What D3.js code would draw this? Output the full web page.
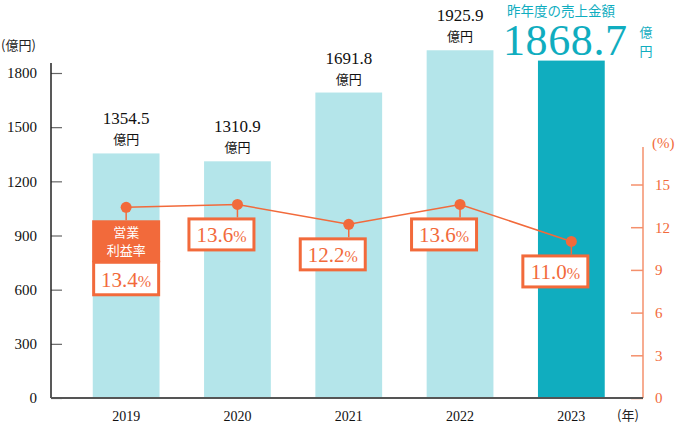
<!DOCTYPE html>
<html><head><meta charset="utf-8">
<script src="https://cdn.jsdelivr.net/npm/d3@7"></script>
<style>body{margin:0;background:#fff}svg{display:block}</style>
</head><body>
<svg id="c" width="679" height="426"></svg>
<script>
const years = ["2019","2020","2021","2022","2023"];
const sales = [1354.5, 1310.9, 1691.8, 1925.9, 1868.7];
const margins = [13.4, 13.6, 12.2, 13.6, 11.0];
const leftTicks = [0, 300, 600, 900, 1200, 1500, 1800];
const rightTicks = [0, 3, 6, 9, 12, 15];

const serif = "'Liberation Serif','DejaVu Serif',serif";
const cjk = "'Noto Sans CJK JP','Noto Sans',sans-serif";
const orange = "#f26a3b", teal = "#10adbf", light = "#b4e5ea";

const svg = d3.select("#c");
const x = d3.scaleBand().domain(years).range([70.5, 627]).paddingInner(0.4).paddingOuter(0.2);
const y = d3.scaleLinear().domain([0, 1800]).range([398, 73]);
const y2 = d3.scaleLinear().domain([0, 15]).range([398, 184.5]);
const cx = d => x(d) + x.bandwidth() / 2;

// bars
svg.selectAll("rect.bar").data(years).join("rect")
  .attr("x", d => x(d)).attr("width", x.bandwidth())
  .attr("y", (d, i) => y(sales[i])).attr("height", (d, i) => y(0) - y(sales[i]))
  .attr("fill", (d, i) => i === years.length - 1 ? teal : light);

// left axis
const la = svg.append("g").attr("transform", "translate(51,0)")
  .call(d3.axisLeft(y).tickValues(leftTicks).tickFormat(d3.format("d")).tickSizeInner(-11).tickSizeOuter(0).tickPadding(14));
la.select(".domain").remove();
la.selectAll(".tick line").attr("stroke", "#666").attr("stroke-width", 1.2);
la.selectAll(".tick text").style("font-family", serif).style("font-size", "15px").attr("fill", "#111");
svg.append("line").attr("x1", 51).attr("x2", 51).attr("y1", 63).attr("y2", 398).attr("stroke", "#222").attr("stroke-width", 1.5);
svg.append("text").attr("x", 1).attr("y", 50).attr("font-family", cjk).attr("font-size", 13).attr("fill", "#222").text("(億円)");

// right axis
const ra = svg.append("g").attr("transform", "translate(643,0)")
  .call(d3.axisRight(y2).tickValues(rightTicks).tickSizeInner(-12).tickSizeOuter(0).tickPadding(12));
ra.select(".domain").remove();
ra.selectAll(".tick line").attr("stroke", "#f4906c").attr("stroke-width", 1.5);
ra.selectAll(".tick text").style("font-family", serif).style("font-size", "15px").attr("fill", orange);
svg.append("line").attr("x1", 643).attr("x2", 643).attr("y1", 147).attr("y2", 398).attr("stroke", "#f4906c").attr("stroke-width", 1.5);
svg.append("text").attr("x", 652).attr("y", 148).attr("font-family", serif).attr("font-size", 15).attr("fill", orange).text("(%)");

// bottom axis
svg.append("line").attr("x1", 51).attr("x2", 643).attr("y1", 398).attr("y2", 398).attr("stroke", "#555").attr("stroke-width", 2);
svg.selectAll("text.yr").data(years).join("text")
  .attr("x", d => cx(d)).attr("y", 421).attr("text-anchor", "middle")
  .attr("font-family", serif).attr("font-size", 14).attr("fill", "#111").text(d => d);
svg.append("text").attr("x", 617).attr("y", 420).attr("font-family", cjk).attr("font-size", 13).attr("fill", "#222").text("(年)");

// bar value labels (not for 2023)
years.slice(0, 4).forEach((d, i) => {
  const t = y(sales[i]);
  svg.append("text").attr("x", cx(d)).attr("y", t - 29).attr("text-anchor", "middle")
    .attr("font-family", serif).attr("font-size", 17).attr("fill", "#111").text(sales[i].toFixed(1));
  svg.append("text").attr("x", cx(d)).attr("y", t - 9).attr("text-anchor", "middle")
    .attr("font-family", cjk).attr("font-size", 13).attr("fill", "#111").text("億円");
});

// headline
svg.append("text").attr("x", 507).attr("y", 15.5).attr("font-family", cjk).attr("font-size", 13.5).attr("fill", teal).text("昨年度の売上金額");
svg.append("text").attr("x", 503).attr("y", 55).attr("font-family", serif).attr("font-size", 44).attr("fill", teal).attr("textLength", 124).text(sales[4].toFixed(1));
svg.append("text").attr("x", 646).attr("y", 36.5).attr("text-anchor", "middle").attr("font-family", cjk).attr("font-size", 13).attr("fill", teal).text("億");
svg.append("text").attr("x", 646).attr("y", 55.5).attr("text-anchor", "middle").attr("font-family", cjk).attr("font-size", 13).attr("fill", teal).text("円");

// line
const line = d3.line().x((d, i) => cx(years[i])).y(d => y2(d));
svg.append("path").datum(margins).attr("d", line).attr("fill", "none").attr("stroke", orange).attr("stroke-width", 1.5);

// labels
margins.forEach((m, i) => {
  const px = cx(years[i]), py = y2(m);
  const boxW = 68, boxH = 34;
  const top = py + 13;
  const bx = i === 0 ? px - boxW / 2 : px - 50;
  svg.append("line").attr("x1", px).attr("x2", px).attr("y1", py).attr("y2", top).attr("stroke", orange).attr("stroke-width", 1.5);
  let valTop = top;
  if (i === 0) {
    svg.append("rect").attr("x", bx).attr("y", top).attr("width", boxW).attr("height", 42).attr("fill", orange);
    svg.append("text").attr("x", px).attr("y", top + 17).attr("text-anchor", "middle").attr("font-family", cjk).attr("font-size", 13).attr("fill", "#fff").text("営業");
    svg.append("text").attr("x", px).attr("y", top + 35).attr("text-anchor", "middle").attr("font-family", cjk).attr("font-size", 13).attr("fill", "#fff").text("利益率");
    valTop = top + 42;
  }
  svg.append("rect").attr("x", bx + 1.5).attr("y", valTop + (i === 0 ? 0 : 1.5))
    .attr("width", boxW - 3).attr("height", boxH - (i === 0 ? 1.5 : 3))
    .attr("fill", "#fff").attr("stroke", orange).attr("stroke-width", 3);
  const t = svg.append("text").attr("x", bx + boxW / 2).attr("y", valTop + 25).attr("text-anchor", "middle")
    .attr("font-family", serif).attr("fill", orange);
  t.append("tspan").attr("font-size", 21).text(m.toFixed(1));
  t.append("tspan").attr("font-size", 16).text("%");
  svg.append("circle").attr("cx", px).attr("cy", py).attr("r", 5.5).attr("fill", orange);
});
</script>
</body></html>
